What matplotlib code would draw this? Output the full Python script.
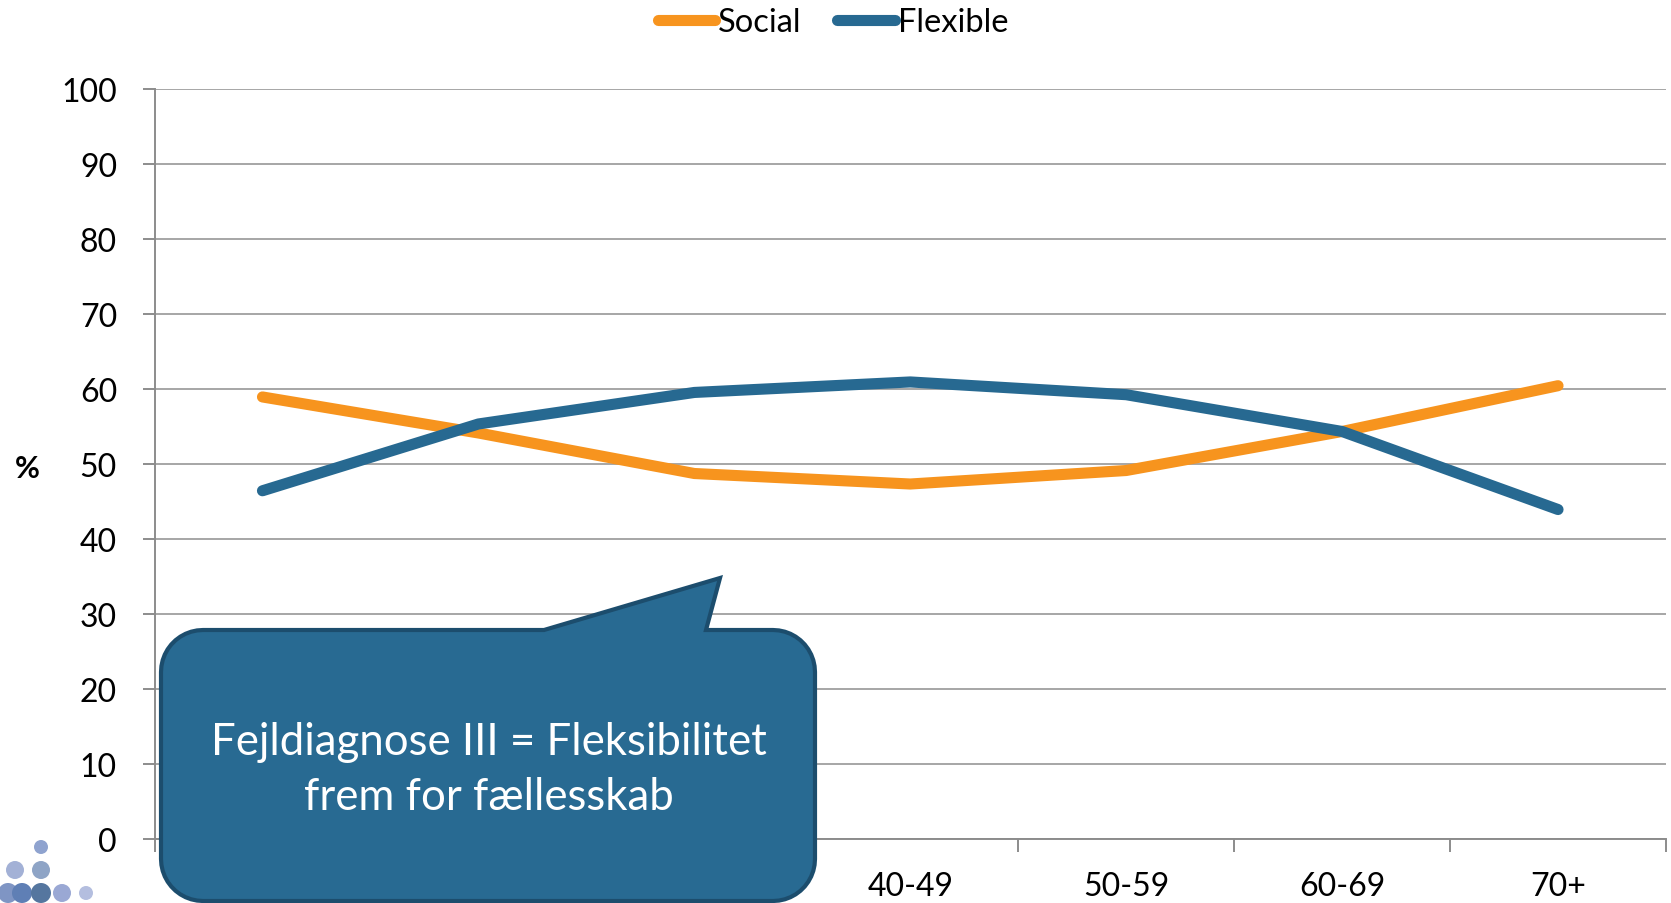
import matplotlib.pyplot as plt
import numpy as np
from matplotlib.path import Path
from matplotlib.patches import PathPatch, Circle
from matplotlib.transforms import Affine2D
from matplotlib.lines import Line2D

plt.rcParams['font.family'] = ['Lato', 'DejaVu Sans']

# data
age_groups = ['18-19', '20-29', '30-39', '40-49', '50-59', '60-69', '70+']
social = [58.9, 54.1, 48.7, 47.3, 49.1, 54.3, 60.4]
flexible = [46.4, 55.3, 59.5, 60.9, 59.2, 54.3, 43.9]

orange = '#f7941e'
blue = '#276991'
grid_col = '#a6a6a6'
axis_col = '#8c8c8c'

W, H = 1671, 904
fig = plt.figure(figsize=(W / 100, H / 100), dpi=100)
ax = fig.add_axes([154.5 / W, 1 - 840 / H, (1666 - 154.5) / W, (840 - 89.5) / H])

x = np.arange(len(age_groups))
ax.plot(x, social, color=orange, lw=8, solid_capstyle='round', solid_joinstyle='round', zorder=3)
ax.plot(x, flexible, color=blue, lw=8, solid_capstyle='round', solid_joinstyle='round', zorder=3)

ax.set_xlim(-0.5, len(age_groups) - 0.5)
ax.set_ylim(0, 100)
ax.set_yticks(range(0, 101, 10))
ax.yaxis.grid(True, color=grid_col, lw=1.4)
ax.set_axisbelow(True)

# category boundaries as major ticks, labels on minor ticks
ax.set_xticks(np.arange(-0.5, len(age_groups), 1.0))
ax.set_xticklabels([])
ax.set_xticks(x, minor=True)
ax.set_xticklabels(age_groups, minor=True)
ax.tick_params(axis='x', which='major', length=9, width=1.4, color=axis_col, direction='out')
ax.tick_params(axis='x', which='minor', length=0, pad=23, labelsize=23)
ax.tick_params(axis='y', length=9, width=1.4, color=axis_col, pad=18, labelsize=23)

for s in ['top', 'right']:
    ax.spines[s].set_visible(False)
for s in ['left', 'bottom']:
    ax.spines[s].set_color(axis_col)
    ax.spines[s].set_linewidth(1.4)

fig.text(27 / W, 1 - 469 / H, '%', fontsize=22, fontweight='bold', ha='center', va='center')

handles = [Line2D([], [], color=orange, lw=8, solid_capstyle='round'),
           Line2D([], [], color=blue, lw=8, solid_capstyle='round')]
fig.legend(handles, ['Social', 'Flexible'], loc='center', bbox_to_anchor=(0.4985, 1 - 23 / H),
           ncol=2, frameon=False, fontsize=23.5, handlelength=1.75, handletextpad=0.1,
           columnspacing=1.1)

# pixel transform (top-left origin) for decorations
pix = Affine2D().scale(1 / W, -1 / H).translate(0, 1) + fig.transFigure

# speech-bubble callout
L, R, T, B, r = 161, 815, 631, 902, 42
def arc(cx, cy, a0, a1, n=12):
    t = np.radians(np.linspace(a0, a1, n))
    return list(zip(cx + r * np.cos(t), cy + r * np.sin(t)))

verts = [(L + r, T), (544, T), (720, 579), (706, T), (R - r, T)]
verts += arc(R - r, T + r, -90, 0)
verts += [(R, B - r)]
verts += arc(R - r, B - r, 0, 90)
verts += [(L + r, B)]
verts += arc(L + r, B - r, 90, 180)
verts += [(L, T + r)]
verts += arc(L + r, T + r, 180, 270)
verts.append(verts[0])
codes = [Path.MOVETO] + [Path.LINETO] * (len(verts) - 2) + [Path.CLOSEPOLY]
bubble = PathPatch(Path(verts, codes), facecolor='#286a92', edgecolor='#1c4d6d', lw=3,
                   transform=pix, zorder=10)
fig.add_artist(bubble)
fig.text(489 / W, 1 - 770 / H, 'Fejldiagnose III = Fleksibilitet\nfrem for fællesskab',
         color='white', fontsize=31.5, ha='center', va='center', linespacing=1.42, zorder=11)

# small dot logo, bottom left
dots = [(41, 848, 7, '#8fa3cf'), (15, 871, 9, '#a3b1d6'), (41, 871, 9, '#8ea4c6'),
        (8, 894, 10, '#7f95c4'), (22, 894, 10, '#5f7fb5'), (41, 894, 10, '#55769f'),
        (62, 894, 9, '#9aa8d4'), (86, 894, 7, '#b4bedf')]
for cx, cy, rr, c in dots:
    fig.add_artist(Circle((cx, cy), rr, transform=pix, facecolor=c, edgecolor='none', zorder=5))

fig.savefig('out.png', dpi=100)
